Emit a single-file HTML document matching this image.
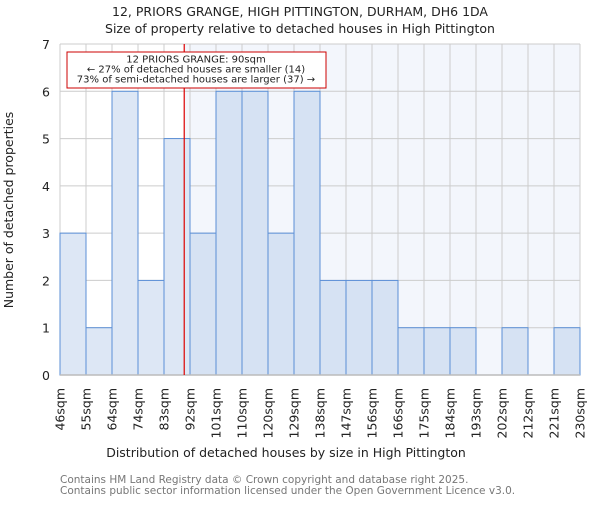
<!DOCTYPE html>
<html><head><meta charset="utf-8"><style>
body{margin:0;background:#fff}
svg{font-family:"DejaVu Sans","Liberation Sans",sans-serif}
</style></head><body>
<svg id="c" width="600" height="500" xmlns="http://www.w3.org/2000/svg">
<text x="300" y="16" text-anchor="middle" font-size="12.5" fill="#222">12, PRIORS GRANGE, HIGH PITTINGTON, DURHAM, DH6 1DA</text>
<text x="300" y="33" text-anchor="middle" font-size="12.5" fill="#222">Size of property relative to detached houses in High Pittington</text>
<g id="plot"></g>
<text x="286" y="457" text-anchor="middle" font-size="12.5" fill="#222">Distribution of detached houses by size in High Pittington</text>
<text transform="translate(13,210) rotate(-90)" text-anchor="middle" font-size="12.5" fill="#222">Number of detached properties</text>
<text x="60" y="483" font-size="10.5" fill="#777">Contains HM Land Registry data © Crown copyright and database right 2025.</text>
<text x="60" y="494" font-size="10.5" fill="#777">Contains public sector information licensed under the Open Government Licence v3.0.</text>
</svg>
<script>
const categories=["46sqm","55sqm","64sqm","74sqm","83sqm","92sqm","101sqm","110sqm","120sqm","129sqm","138sqm","147sqm","156sqm","166sqm","175sqm","184sqm","193sqm","202sqm","212sqm","221sqm","230sqm"];
const counts=[3,1,6,2,5,3,6,6,3,6,2,2,2,1,1,1,0,1,0,1];
const yTicks=[0,1,2,3,4,5,6,7];
const propertySize=90;
const binEdges=[46,55,64,74,83,92,101,110,120,129,138,147,156,166,175,184,193,202,212,221,230];
const X0=60,X1=580,Y0=375,Y1=44,YMAX=7;
const bw=(X1-X0)/counts.length;
const y=v=>Y0-(Y0-Y1)*v/YMAX;
function xv(v){for(let i=0;i<binEdges.length-1;i++){if(v<=binEdges[i+1])return X0+bw*(i+(v-binEdges[i])/(binEdges[i+1]-binEdges[i]));}return X1;}
const NS="http://www.w3.org/2000/svg";
const g=document.getElementById('plot');
function mk(t,a){const e=document.createElementNS(NS,t);for(const k in a)e.setAttribute(k,a[k]);g.appendChild(e);return e;}
const lx=xv(propertySize);
let e=mk('rect',{x:lx,y:Y1,width:X1-lx,height:Y0-Y1,fill:'#f3f6fc'});


yTicks.forEach(t=>{
 let l=mk('line',{x1:X0,x2:X1,y1:y(t),y2:y(t),stroke:'#ccc','stroke-width':1});
 
 
 let tx=mk('text',{x:X0-10,y:y(t)+5,'text-anchor':'end','font-size':'12.5',fill:'#222'});
 tx.textContent=t;
 
 
});
categories.forEach((c,i)=>{
 const x=X0+bw*i;
 let l=mk('line',{x1:x,x2:x,y1:Y1,y2:Y0,stroke:'#ccc','stroke-width':1});
 
 
 let tx=mk('text',{transform:`translate(${x+4.5},388) rotate(-90)`,'text-anchor':'end','font-size':'12.5',fill:'#222'});
 tx.textContent=c;
 
 
});
counts.forEach((v,i)=>{
 if(v<=0)return;
 const x=X0+bw*i;
 const right=x+bw/2>lx;
 let r=mk('rect',{x:x,y:y(v),width:bw,height:Y0-y(v),fill:right?'#d6e2f3':'#dde7f5',stroke:'#5b8fd6','stroke-width':1});
 
 
});
let ax=mk('line',{x1:X0,x2:X1,y1:Y0,y2:Y0,stroke:'#bbb','stroke-width':1.5});


let rl=mk('line',{x1:lx,x2:lx,y1:Y1,y2:Y0,stroke:'#d00','stroke-width':1.2});


let box=mk('rect',{x:67,y:52,width:259,height:36,fill:'#fff',stroke:'#c00','stroke-width':1});


[["12 PRIORS GRANGE: 90sqm",62.5],["← 27% of detached houses are smaller (14)",72.5],["73% of semi-detached houses are larger (37) →",82.5]].forEach((a,i)=>{
 let t=mk('text',{x:196,y:a[1],'text-anchor':'middle','font-size':'10',fill:'#222'});
 t.textContent=a[0];
 
 
});
</script>
</body></html>
